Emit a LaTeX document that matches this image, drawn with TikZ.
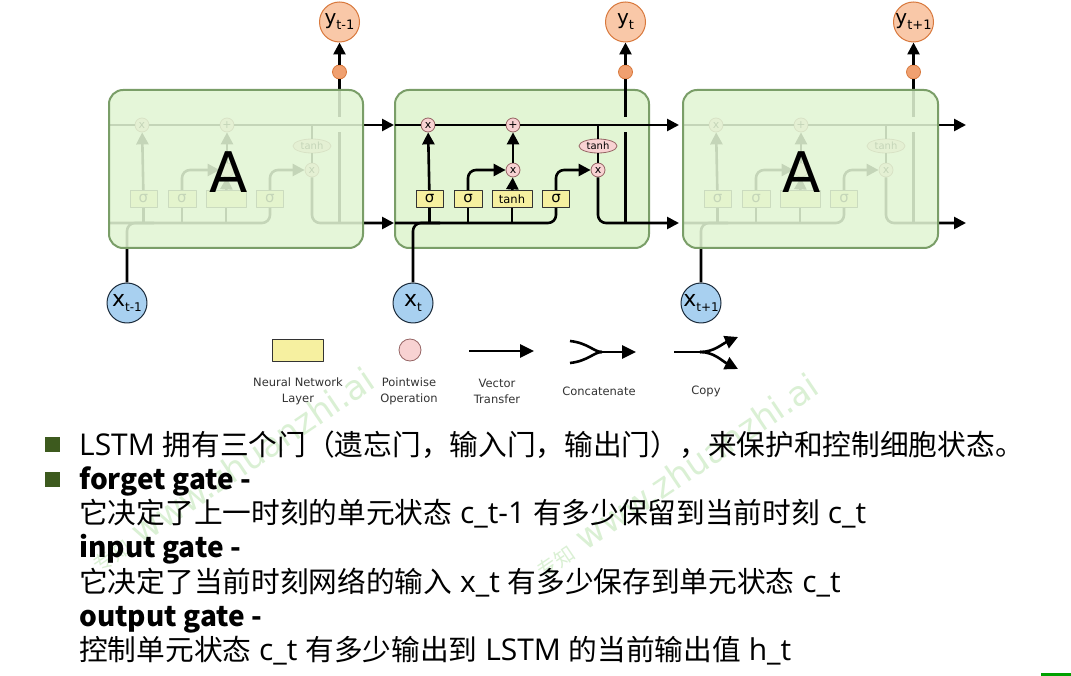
\documentclass[tikz,border=0pt]{standalone}
\usepackage{fontspec}
\usetikzlibrary{arrows.meta,shapes.geometric}
\newfontfamily\dv{DejaVu Sans}
\newfontfamily\cjk{Noto Sans CJK SC}
\newfontfamily\cjkb{Noto Sans CJK SC}
\newfontfamily\latfam{Open Sans}
\newcommand\la[1]{{\latfam\fontsize{30}{30}\selectfont#1}}
\definecolor{cellfill}{RGB}{226,245,212}
\definecolor{cellborder}{RGB}{122,158,104}
\definecolor{nnyellow}{RGB}{246,240,160}
\definecolor{pwpink}{RGB}{248,210,210}
\definecolor{pwborder}{RGB}{150,100,100}
\definecolor{yfill}{RGB}{249,200,168}
\definecolor{yborder}{RGB}{216,120,60}
\definecolor{ocfill}{RGB}{240,160,112}
\definecolor{xfill}{RGB}{168,208,240}
\definecolor{xborder}{RGB}{26,42,58}
\definecolor{bulletgreen}{RGB}{61,90,30}
\definecolor{wmgreen}{RGB}{218,240,212}
\definecolor{barGreen}{RGB}{0,160,0}
\begin{document}
\begin{tikzpicture}[x=1pt,y=-1pt,line join=round,
  wire/.style={line width=2.6pt,black},
  arr/.style={wire,-{Triangle[length=12pt,width=12pt]}},
  nnl/.style={draw=black!80,line width=0.8pt,fill=nnyellow,minimum height=17pt,inner sep=0pt,font=\dv\fontsize{15}{15}\selectfont},
  pw/.style={circle,draw=pwborder,line width=0.8pt,fill=pwpink,minimum size=14pt,inner sep=0pt,font=\dv\fontsize{11}{11}\selectfont},
  pwell/.style={ellipse,draw=pwborder,line width=0.8pt,fill=pwpink,minimum width=38pt,minimum height=14pt,inner sep=0pt,font=\dv\fontsize{10}{10}\selectfont},
  ycirc/.style={circle,draw=yborder,line width=1pt,fill=yfill,minimum size=40pt,inner sep=0pt,font=\dv\fontsize{20}{20}\selectfont},
  xcirc/.style={circle,draw=xborder,line width=1pt,fill=xfill,minimum size=40pt,inner sep=0pt,font=\dv\fontsize{22}{22}\selectfont},
  ocirc/.style={circle,draw=yborder,line width=0.8pt,fill=ocfill,minimum size=14pt,inner sep=0pt},
  cellbox/.style={rounded corners=14pt,line width=2pt,draw=cellborder,fill=cellfill},
  biglabel/.style={inner sep=0pt,font=\dv\fontsize{56}{56}\selectfont},
  lg/.style={align=center,font=\dv\fontsize{11.5}{16}\selectfont,text=black!80},
  txt/.style={anchor=base west,inner sep=0pt,font=\cjk\fontsize{28.7}{28.7}\selectfont},
  btxt/.style={txt,font=\cjkb\bfseries\fontsize{28}{28}\selectfont},
  bullet/.style={rectangle,fill=bulletgreen,minimum size=15pt,inner sep=0pt},
  wm/.style={text=wmgreen,font=\dv\fontsize{34}{34}\selectfont,rotate=34}
]
\useasboundingbox (0,0) rectangle (1071,676);
\fill[white] (0,0) rectangle (1071,676);

% watermarks
\node[wm] (wm1) at (232,470) {{\cjk\fontsize{20}{20}\selectfont 专知} www.zhuanzhi.ai};
\node[wm] (wm2) at (676,476) {{\cjk\fontsize{20}{20}\selectfont 专知} www.zhuanzhi.ai};

% middle cell box
\draw[cellbox] (395,90) rectangle (649,248);

% cell internals
\foreach \n/\L/\R/\s/\ix/\tx in {1/109/394/{t-1}/{}/{},2/395/679/t/x/tanh,3/683/966/{t+1}/{}/{}}{
  \coordinate (cb\n) at (\L,223);
  \coordinate (ct\n) at (\L+203,125);
  \coordinate (ob\n) at (\L+230.5,223);
  \coordinate (obt\n) at (\L+230.5,132);
  \coordinate (obu\n) at (\L+230.5,117);
  \coordinate (ce\n) at (\R,125);
  \coordinate (he\n) at (\R,223);
  \coordinate (tl\n) at (\L,125);
  \node[pw] (fm\n) at (\L+33,125) {x};
  \node[pw] (ad\n) at (\L+118,125) {+};
  \node[pw] (im\n) at (\L+118,170) {\ix};
  \node[pwell] (te\n) at (\L+203,146) {tanh};
  \node[pw] (om\n) at (\L+203,170) {x};
  \node[nnl,minimum width=27pt] (sa\n) at (\L+34.5,199) {σ};
  \node[nnl,minimum width=28pt] (sb\n) at (\L+73,199) {σ};
  \node[nnl,minimum width=40pt,font=\dv\fontsize{11.5}{11.5}\selectfont] (th\n) at (\L+117,199) {\tx};
  \node[nnl,minimum width=27pt] (sc\n) at (\L+161,199) {σ};
  \node[ocirc] (oc\n) at (\L+230.5,72) {};
  \node[ycirc] (y\n) at (\L+230.5,22) {y\raisebox{-5pt}{\fontsize{13}{13}\selectfont\s}};
  \node[xcirc] (x\n) at (\L+18,303) {x\raisebox{-5pt}{\fontsize{12}{12}\selectfont\s}};
  % cell state line
  \draw[wire] (tl\n) -- (fm\n);
  \draw[wire] (fm\n) -- (ad\n);
  \draw[arr] (ad\n) -- (ce\n);
  % hidden / input line
  \draw[wire,rounded corners=8pt] (cb\n) -| (sc\n.south);
  \draw[wire,rounded corners=8pt] (x\n.north) |- (\L+45,223);
  \draw[wire] (sa\n.south) -- (sa\n.south |- cb\n);
  \draw[wire] (sb\n.south) -- (sb\n.south |- cb\n);
  \draw[wire] (th\n.south) -- (th\n.south |- cb\n);
  % gates
  \draw[arr] (sa\n) -- (fm\n);
  \draw[arr,rounded corners=8pt] (sb\n.north) |- (im\n.west);
  \draw[arr] (th\n) -- (im\n);
  \draw[arr] (im\n) -- (ad\n);
  \draw[arr,rounded corners=8pt] (sc\n.north) |- (om\n.west);
  \draw[wire] (ct\n) -- (te\n);
  \draw[wire] (te\n) -- (om\n);
  \draw[arr,rounded corners=8pt] (om\n.south) |- (he\n);
  % output
  \draw[wire] (ob\n) -- (obt\n);
  \draw[wire] (obu\n) -- (oc\n);
  \draw[arr] (oc\n) -- (y\n);
}

% faded outer cells
\fill[cellfill,fill opacity=0.87,rounded corners=14pt] (109,90) rectangle (363,248);
\draw[cellborder,line width=2pt,rounded corners=14pt] (109,90) rectangle (363,248);
\fill[cellfill,fill opacity=0.87,rounded corners=14pt] (683,90) rectangle (938,248);
\draw[cellborder,line width=2pt,rounded corners=14pt] (683,90) rectangle (938,248);
\node[biglabel] (A1) at (228.5,172.5) {A};
\node[biglabel] (A3) at (802,172.5) {A};

% legend
\node[nnl,minimum width=51pt,minimum height=22pt] (lgnn) at (297.5,350) {};
\node[pw,minimum size=22pt] (lgpw) at (410,350) {};
\coordinate (vt1) at (469,351);
\coordinate (vt2) at (534,351);
\draw[arr,-{Triangle[length=14pt,width=13pt]}] (vt1) -- (vt2);
\coordinate (ca) at (570,341);
\coordinate (cbb) at (570,363);
\coordinate (cm) at (602,352);
\coordinate (cee) at (636,352);
\draw[wire] (ca) .. controls (588,343) and (594,352) .. (cm);
\draw[wire] (cbb) .. controls (588,361) and (594,352) .. (cm);
\draw[arr,-{Triangle[length=14pt,width=13pt]}] (cm) -- (cee);
\coordinate (cp0) at (674,352);
\coordinate (cp1) at (700,352);
\coordinate (cpu) at (738,337);
\coordinate (cpd) at (738,369);
\draw[wire] (cp0) -- (cp1);
\draw[arr,-{Triangle[length=13pt,width=13pt]}] (cp1) .. controls (714,352) and (722,344) .. (cpu);
\draw[arr,-{Triangle[length=13pt,width=13pt]}] (cp1) .. controls (714,352) and (722,361) .. (cpd);
\node[lg] (lt1) at (298,391) {Neural Network\\Layer};
\node[lg] (lt2) at (409,391) {Pointwise\\Operation};
\node[lg] (lt3) at (497,391) {Vector\\Transfer};
\node[lg] (lt4) at (599,391) {Concatenate};
\node[lg] (lt5) at (706,391) {Copy};

% text
\node[bullet] (b1) at (52.5,444.5) {};
\node[bullet] (b2) at (52.5,479.5) {};
\node[txt] (l1) at (79,455) {\la{LSTM\ }拥有三个门（遗忘门，输入门，输出门），来保护和控制细胞状态。};
\node[btxt] (l2) at (79,489.5) {forget gate -};
\node[txt] (l3) at (79,523.5) {它决定了上一时刻的单元状态\la{\ c\_t-1\ }有多少保留到当前时刻\la{\ c\_t}};
\node[btxt] (l4) at (79,557.5) {input gate -};
\node[txt] (l5) at (79,592) {它决定了当前时刻网络的输入\la{\ x\_t\ }有多少保存到单元状态\la{\ c\_t}};
\node[btxt] (l6) at (79,626) {output gate -};
\node[txt] (l7) at (79,660) {控制单元状态\la{\ c\_t\ }有多少输出到\la{\ LSTM\ }的当前输出值\la{\ h\_t}};

\draw[barGreen,line width=3pt] (1041,674.5) -- (1071,674.5);
\end{tikzpicture}
\end{document}
